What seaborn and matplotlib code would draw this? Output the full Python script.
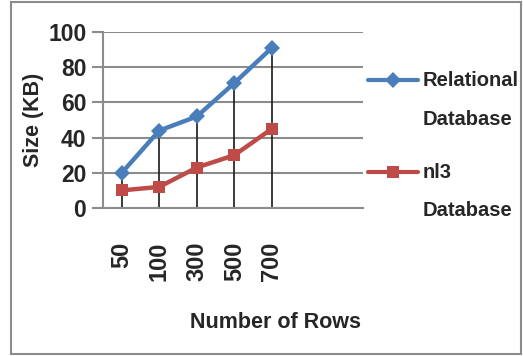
import matplotlib
matplotlib.use("Agg")
import matplotlib.pyplot as plt
from matplotlib.lines import Line2D
from matplotlib.patches import Rectangle
import seaborn as sns
import pandas as pd

rows = ["50", "100", "300", "500", "700"]
relational = [20, 44, 52, 71, 91]
nl3 = [10, 12, 23, 30, 45]
series_names = ["Relational Database", "nl3 Database"]
y_ticks = [0, 20, 40, 60, 80, 100]

blue = "#4A7EBB"
red = "#BE4B48"
grid_grey = "#8C8C8C"

sns.set_theme(style="white")
plt.rcParams["font.family"] = ["Liberation Sans", "DejaVu Sans"]

df = pd.DataFrame({
    "rows": rows * 2,
    "size": relational + nl3,
    "series": [series_names[0]] * len(rows) + [series_names[1]] * len(rows),
})

fig = plt.figure(figsize=(5.23, 3.56), dpi=100)
ax = fig.add_axes([103 / 523, 1 - 208 / 356, 260 / 523, 176 / 356])

# Drop lines from the higher series down to the category axis
positions = list(range(len(rows)))
tops = [max(a, b) for a, b in zip(relational, nl3)]
ax.vlines(positions, 0, tops, color="#1A1A1A", lw=1.2, zorder=2)

sns.lineplot(
    data=df, x="rows", y="size", hue="series", style="series",
    palette=[blue, red], markers=["D", "s"], dashes=False,
    markersize=8, linewidth=3.2, markeredgewidth=0, sort=False,
    legend=False, ax=ax, zorder=3,
)

ax.set_xlim(-0.5, 6.43)
ax.set_ylim(0, 100)
ax.set_yticks(y_ticks)
ax.set_yticklabels([str(v) for v in y_ticks], fontsize=16.5, fontweight="bold")
ax.set_xticks(positions)
ax.set_xticklabels(rows, rotation=90, fontsize=17, fontweight="bold", va="top")
ax.tick_params(axis="y", length=8, width=1.5, color=grid_grey, direction="out", pad=4, left=True)
ax.tick_params(axis="x", length=0, pad=24)
ax.grid(axis="y", color=grid_grey, lw=1.5)
ax.set_axisbelow(True)
for side in ["top", "right"]:
    ax.spines[side].set_visible(False)
for side in ["left", "bottom"]:
    ax.spines[side].set_color(grid_grey)
    ax.spines[side].set_linewidth(1.5)

ax.set_xlabel("")
ax.set_ylabel("")
fig.text(33 / 523, 1 - 120 / 356, "Size (KB)", rotation=90, ha="center", va="center",
         fontsize=15.5, fontweight="bold")
fig.text(276 / 523, 1 - 322 / 356, "Number of Rows", ha="center", va="center",
         fontsize=15.5, fontweight="bold")

# Legend
legend_items = [
    (blue, "D", 80, 81, 120, "Relational", "Database"),
    (red, "s", 172, 172, 210, "nl3", "Database"),
]
for color, marker, ly, t1, t2, l1, l2 in legend_items:
    fig.add_artist(Line2D([368 / 523, 418 / 523], [1 - ly / 356] * 2, color=color, lw=3,
                          transform=fig.transFigure))
    fig.add_artist(Line2D([393 / 523], [1 - ly / 356], color=color, marker=marker,
                          markersize=8, markeredgewidth=0, transform=fig.transFigure))
    fig.text(423 / 523, 1 - t1 / 356, l1, ha="left", va="center", fontsize=14.5,
             fontweight="bold")
    fig.text(423 / 523, 1 - t2 / 356, l2, ha="left", va="center", fontsize=14.5,
             fontweight="bold")

# Chart border
fig.add_artist(Rectangle((11 / 523, 2 / 356), 510 / 523, 352 / 356, transform=fig.transFigure,
                         fill=False, edgecolor="#8C8C8C", lw=1.5))

fig.savefig("out.png", dpi=100)
